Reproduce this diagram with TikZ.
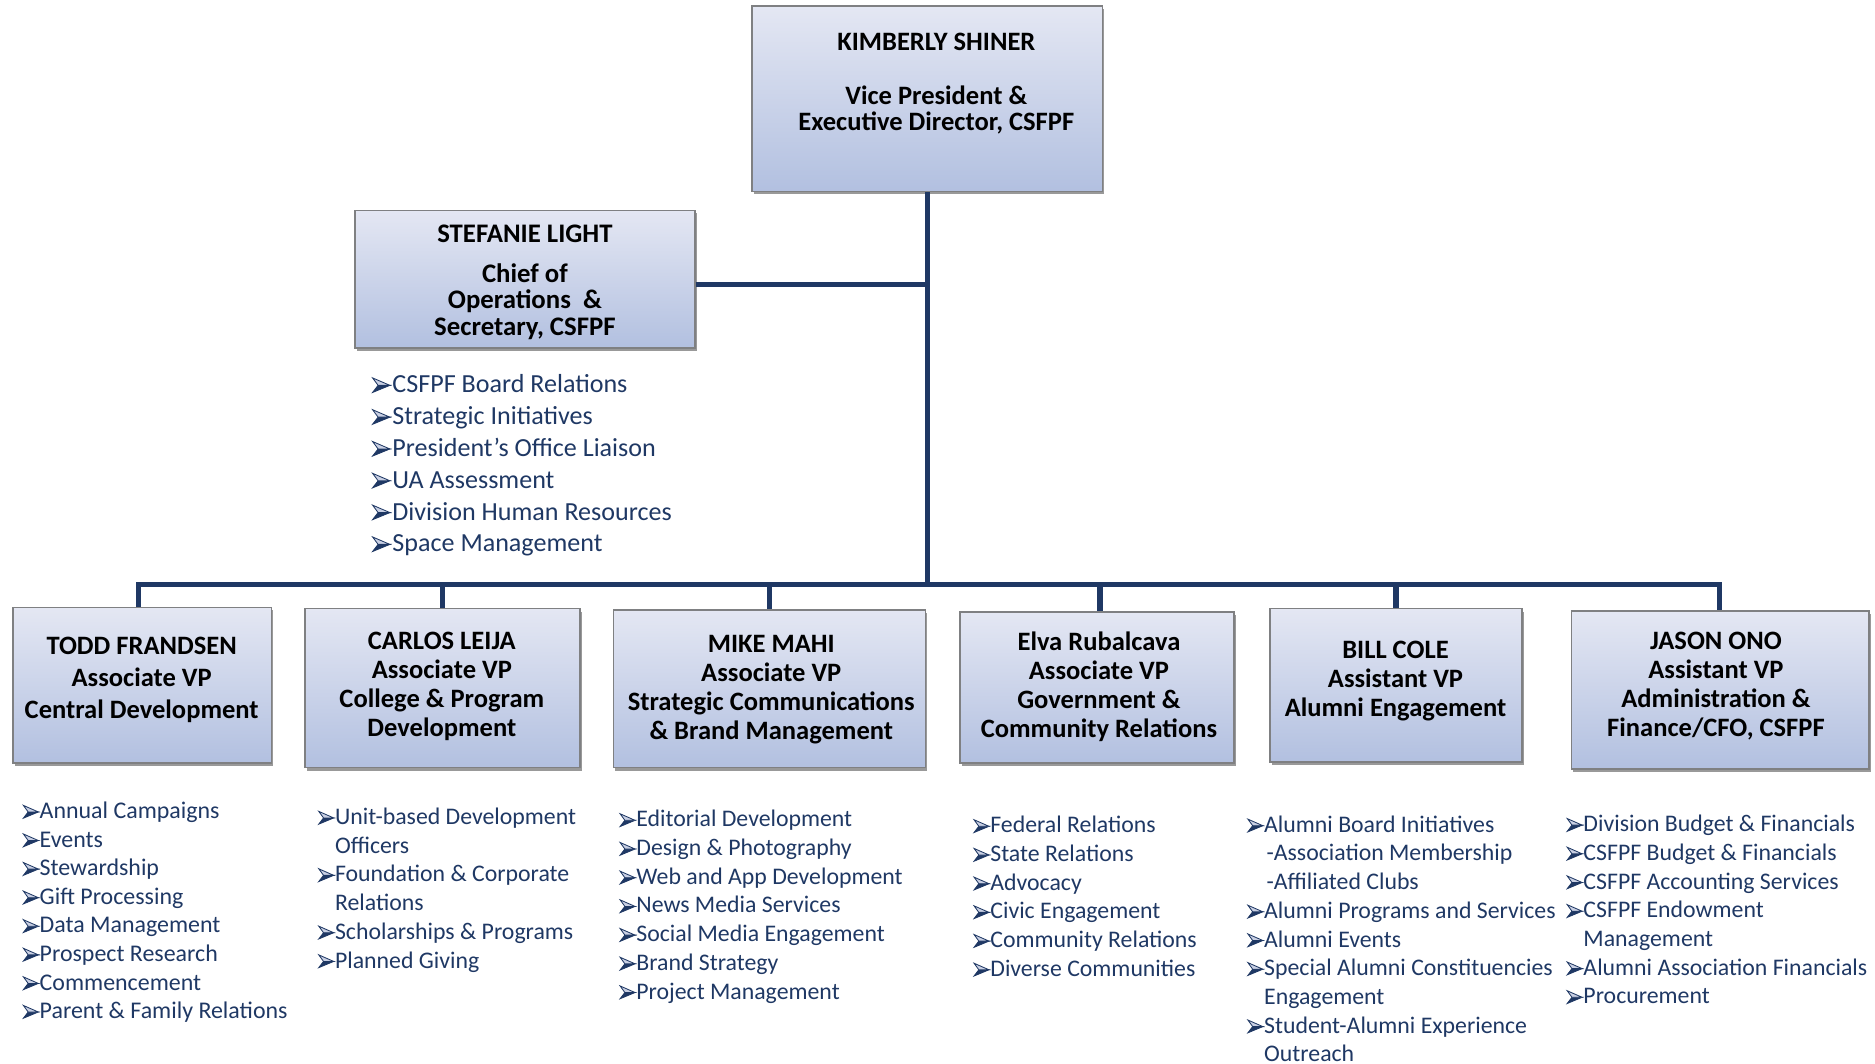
\documentclass[tikz,border=0pt]{standalone}
\usepackage{fontspec}
\setmainfont{Carlito}
\usetikzlibrary{shadows}
\definecolor{navy}{HTML}{1F3864}
\definecolor{boxtop}{HTML}{E4E7F3}
\definecolor{boxbot}{HTML}{B2C0E0}
\definecolor{boxline}{HTML}{7F8082}
\definecolor{bullite}{HTML}{C9D0E4}
\newcommand\ahd[2]{\begin{tikzpicture}[x=1pt,y=1pt,baseline=0pt,line join=miter]
 \filldraw[draw=navy, fill=navy, line width=0.7pt] (0,0.3) -- (#1,#2/2) -- (0.32*#1,#2/2) -- cycle;
 \filldraw[draw=navy, fill=bullite, line width=0.7pt] (0,#2) -- (#1,#2/2) -- (0.32*#1,#2/2) -- cycle;
\end{tikzpicture}}
\newcommand\bul{\makebox[14pt][l]{\ahd{12.5}{11}}}
\newcommand\bulS{\makebox[17pt][l]{\ahd{14.5}{12.5}}}
\begin{document}
\begin{tikzpicture}[x=1pt,y=-1pt,
  box/.style={draw=boxline, line width=1.3pt, top color=boxtop, bottom color=boxbot, inner sep=0pt,
    drop shadow={shadow xshift=1.5pt, shadow yshift=-2.5pt, opacity=0.4, fill=black}},
  conn/.style={draw=navy, line width=4.5pt},
  btxt/.style={anchor=base, inner sep=0pt, font=\bfseries, text=black},
  ltxt/.style={anchor=base west, inner sep=0pt, text=navy}]
\useasboundingbox (0,0) rectangle (1568,889);
% boxes
\node[box, minimum width=293pt, minimum height=155pt] (kim) at (775.5,82.5) {};
\node[box, minimum width=284pt, minimum height=115pt] (stef) at (439,233.5) {};
\node[box, minimum width=216pt, minimum height=130pt] (todd) at (119,573) {};
\node[box, minimum width=230pt, minimum height=133pt] (carlos) at (370,575.5) {};
\node[box, minimum width=261pt, minimum height=132pt] (mike) at (643.5,576) {};
\node[box, minimum width=229pt, minimum height=126pt] (elva) at (917.5,575) {};
\node[box, minimum width=211pt, minimum height=128pt] (bill) at (1167.5,573) {};
\node[box, minimum width=249pt, minimum height=132pt] (jason) at (1438.5,577) {};
% connectors
\coordinate (bus) at (776,489);
\draw[conn] (kim.south) -- (kim.south |- bus);
\draw[conn] ([yshift=-4.5pt]stef.east) -- ([yshift=-4.5pt]stef.east -| kim.south);
\draw[conn, line join=miter] ([xshift=-3pt]todd.north) -- ([xshift=-3pt]todd.north |- bus) -- ([xshift=-0.5pt]jason.north |- bus) -- ([xshift=-0.5pt]jason.north);
\draw[conn] (carlos.north |- bus) -- (carlos.north);
\draw[conn] (mike.north |- bus) -- (mike.north);
\draw[conn] ([xshift=2.5pt]elva.north |- bus) -- ([xshift=2.5pt]elva.north);
\draw[conn] (bill.north |- bus) -- (bill.north);
% box texts
\node[btxt] (kimt) at (783,42) {\fontsize{22.2}{20.5}\selectfont\begin{tabular}[t]{@{}c@{}}KIMBERLY SHINER\\[24pt] Vice President \&\\ Executive Director, CSFPF\end{tabular}};
\node[btxt] (steft) at (439,202.5) {\fontsize{22.4}{22.3}\selectfont\begin{tabular}[t]{@{}c@{}}STEFANIE LIGHT\\[11pt] Chief of\\ Operations~ \&\\ Secretary, CSFPF\end{tabular}};
\node[btxt] (toddt) at (118.5,547.5) {\fontsize{22.2}{26.5}\selectfont\begin{tabular}[t]{@{}c@{}}TODD FRANDSEN\\ Associate VP\\ Central Development\end{tabular}};
\node[btxt] (carlost) at (369.5,542.8) {\fontsize{22.2}{24.3}\selectfont\begin{tabular}[t]{@{}c@{}}CARLOS LEIJA\\ Associate VP\\ College \& Program\\ Development\end{tabular}};
\node[btxt] (miket) at (645,545.8) {\fontsize{22.2}{24.3}\selectfont\begin{tabular}[t]{@{}c@{}}MIKE MAHI\\ Associate VP\\ Strategic Communications\\ \& Brand Management\end{tabular}};
\node[btxt] (elvat) at (919,543.8) {\fontsize{22.2}{24.3}\selectfont\begin{tabular}[t]{@{}c@{}}Elva Rubalcava\\ Associate VP\\ Government \&\\ Community Relations\end{tabular}};
\node[btxt] (billt) at (1167,550.8) {\fontsize{22.2}{24.3}\selectfont\begin{tabular}[t]{@{}c@{}}BILL COLE\\ Assistant VP\\ Alumni Engagement\end{tabular}};
\node[btxt] (jasont) at (1435,542.8) {\fontsize{22.2}{24.3}\selectfont\begin{tabular}[t]{@{}c@{}}JASON ONO\\ Assistant VP\\ Administration \&\\ Finance/CFO, CSFPF\end{tabular}};
% lists
\node[ltxt] (stefl) at (311,328.5) {\fontsize{21.8}{26.6}\selectfont\begin{tabular}[t]{@{}l@{}l@{}}\bulS & CSFPF Board Relations\\ \bulS & Strategic Initiatives\\ \bulS & President’s Office Liaison\\ \bulS & UA Assessment\\ \bulS & Division Human Resources\\ \bulS & Space Management\end{tabular}};
\node[ltxt] (toddl) at (19,684.5) {\fontsize{20}{23.9}\selectfont\begin{tabular}[t]{@{}l@{}l@{}}\bul & Annual Campaigns\\ \bul & Events\\ \bul & Stewardship\\ \bul & Gift Processing\\ \bul & Data Management\\ \bul & Prospect Research\\ \bul & Commencement\\ \bul & Parent \& Family Relations\end{tabular}};
\node[ltxt] (carlosl) at (266,689.5) {\fontsize{19.9}{24}\selectfont\begin{tabular}[t]{@{}l@{}l@{}}\bul & Unit-based Development\\ & Officers\\ \bul & Foundation \& Corporate\\ & Relations\\ \bul & Scholarships \& Programs\\ \bul & Planned Giving\end{tabular}};
\node[ltxt] (mikel) at (518,691.5) {\fontsize{19.9}{24}\selectfont\begin{tabular}[t]{@{}l@{}l@{}}\bul & Editorial Development\\ \bul & Design \& Photography\\ \bul & Web and App Development\\ \bul & News Media Services\\ \bul & Social Media Engagement\\ \bul & Brand Strategy\\ \bul & Project Management\end{tabular}};
\node[ltxt] (elval) at (814,696.5) {\fontsize{19.9}{24}\selectfont\begin{tabular}[t]{@{}l@{}l@{}}\bul & Federal Relations\\ \bul & State Relations\\ \bul & Advocacy\\ \bul & Civic Engagement\\ \bul & Community Relations\\ \bul & Diverse Communities\end{tabular}};
\node[ltxt] (billl) at (1043,696) {\fontsize{19.9}{24}\selectfont\begin{tabular}[t]{@{}l@{}l@{}}\bul & Alumni Board Initiatives\\ & \hspace{2pt}-Association Membership\\ & \hspace{2pt}-Affiliated Clubs\\ \bul & Alumni Programs and Services\\ \bul & Alumni Events\\ \bul & Special Alumni Constituencies\\ & Engagement\\ \bul & Student-Alumni Experience\\ & Outreach\end{tabular}};
\node[ltxt] (jasonl) at (1310,695.5) {\fontsize{19.9}{24}\selectfont\begin{tabular}[t]{@{}l@{}l@{}}\bul & Division Budget \& Financials\\ \bul & CSFPF Budget \& Financials\\ \bul & CSFPF Accounting Services\\ \bul & CSFPF Endowment\\ & Management\\ \bul & Alumni Association Financials\\ \bul & Procurement\end{tabular}};
\end{tikzpicture}
\end{document}
